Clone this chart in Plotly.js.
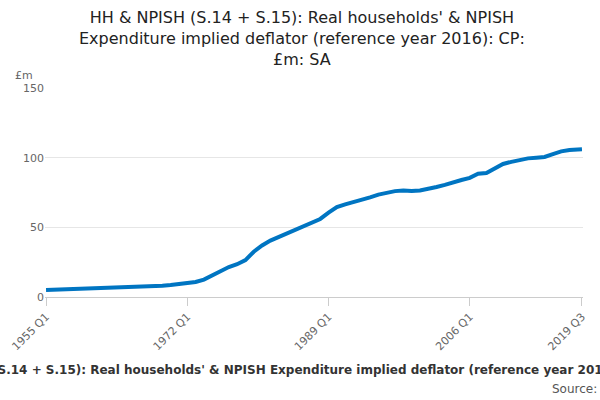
<!DOCTYPE html>
<html>
<head>
<meta charset="utf-8">
<script src="https://cdn.plot.ly/plotly-3.0.1.min.js"></script>
<style>body{margin:0}#chart{width:600px;height:400px}</style>
</head>
<body>
<div id="chart"></div>
<script>
const years = [];
for (let y = 1955; y <= 2019; y++) years.push(y);
const values = [
  5.0, 5.2, 5.4, 5.6, 5.8, 5.9, 6.0, 6.2, 6.4, 6.6,
  6.8, 7.1, 7.4, 7.7, 8.1, 8.6, 9.3, 10.0, 10.8, 12.5,
  15.5, 18.5, 21.5, 23.5, 26.5, 32.5, 37.0, 40.5, 43.0, 45.5,
  48.0, 50.5, 53.0, 56.0, 60.5, 64.5, 66.5, 68.0, 69.5, 71.5,
  73.5, 75.0, 76.0, 76.5, 76.0, 76.5, 77.5, 79.0, 80.5, 82.5,
  84.0, 85.5, 88.5, 89.0, 92.0, 95.5, 97.0, 98.5, 99.5, 100.0,
  100.5, 102.5, 104.5, 105.5, 106.0
];
const tickLabels = ["1955 Q1", "1972 Q1", "1989 Q1", "2006 Q1", "2019 Q3"];

const quarters = [];
for (const y of years) {
  for (let q = 1; q <= 4; q++) {
    quarters.push(y + " Q" + q);
    if (y === 2019 && q === 3) break;
  }
}
const x = years.map((y, i) => (i === years.length - 1 ? "2019 Q3" : y + " Q1"));

Plotly.newPlot("chart", [{
  x: x, y: values, type: "scatter", mode: "lines",
  line: {color: "#0075c2", width: 4}, hoverinfo: "x+y"
}], {
  width: 600, height: 400,
  margin: {l: 45, r: 17, t: 88, b: 103},
  font: {family: "DejaVu Sans", color: "#333"},
  showlegend: false,
  plot_bgcolor: "#fff", paper_bgcolor: "#fff",
  xaxis: {
    type: "category", categoryorder: "array", categoryarray: quarters,
    range: [-0.5, quarters.length - 0.5],
    tickmode: "array", tickvals: tickLabels, ticktext: tickLabels,
    tickangle: -45, ticks: "outside", ticklen: 8, tickcolor: "#ccc",
    showgrid: false, showline: true, linecolor: "#ccc",
    tickfont: {size: 11, color: "#666"}
  },
  yaxis: {
    range: [0, 150], tickvals: [0, 50, 100, 150],
    gridcolor: "#e6e6e6", zeroline: false,
    tickfont: {size: 11, color: "#666"}
  },
  annotations: [
    {text: "HH & NPISH (S.14 + S.15): Real households' & NPISH<br>Expenditure implied deflator (reference year 2016): CP:<br>£m: SA",
     xref: "paper", yref: "paper", x: 0.477, y: 1.08, xanchor: "center", yanchor: "bottom",
     showarrow: false, font: {size: 16, color: "#222"}},
    {text: "£m", xref: "paper", yref: "paper", x: -0.06, y: 1.02, xanchor: "left", yanchor: "bottom",
     showarrow: false, font: {size: 11, color: "#666"}},
    {text: "<b>HH & NPISH (S.14 + S.15): Real households' & NPISH Expenditure implied deflator (reference year 2016): CP: £m: SA</b>",
     xref: "paper", yref: "paper", x: 0.48, y: -0.35, xanchor: "center", yanchor: "middle",
     showarrow: false, font: {size: 12, color: "#333"}},
    {text: "Source: Office for National Statistics", xref: "paper", yref: "paper", x: 0.939, y: -0.44,
     xanchor: "left", yanchor: "middle", showarrow: false, font: {size: 12, color: "#555"}}
  ]
}, {displayModeBar: false});
</script>
</body>
</html>
